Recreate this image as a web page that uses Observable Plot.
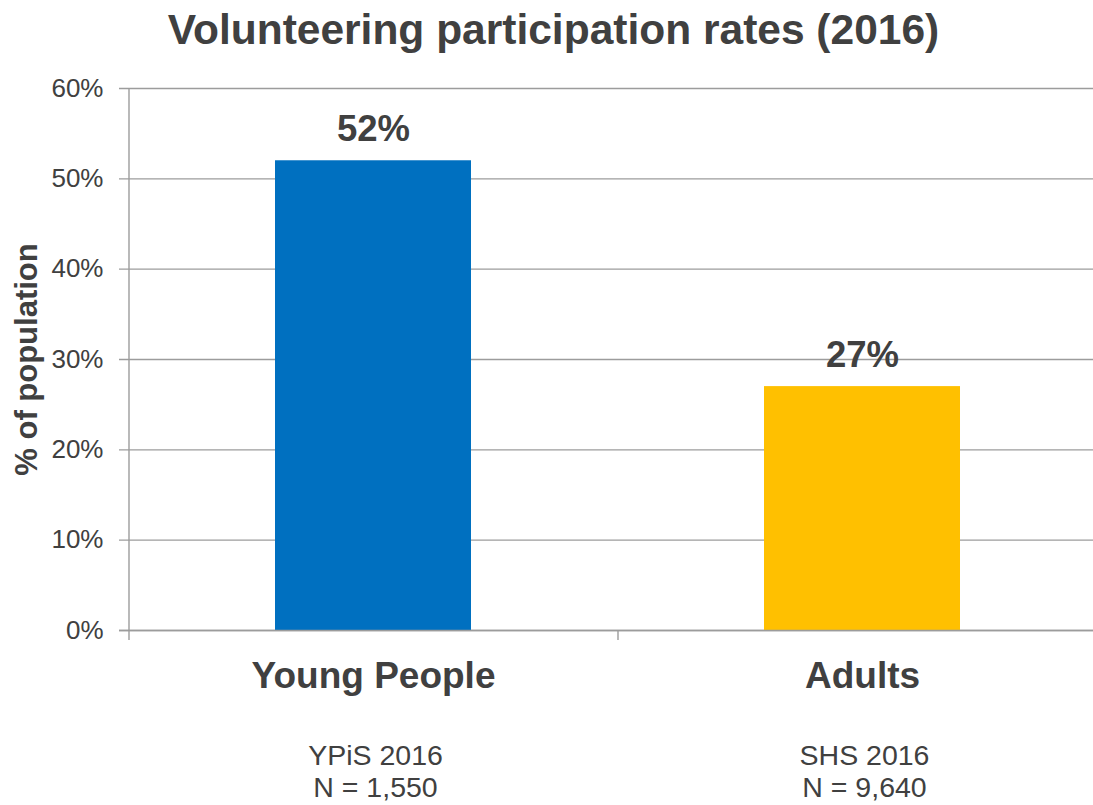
<!DOCTYPE html>
<html>
<head>
<meta charset="utf-8">
<script src="https://cdn.jsdelivr.net/npm/d3@7"></script>
<script src="https://cdn.jsdelivr.net/npm/@observablehq/plot@0.6"></script>
<style>
  html, body { margin: 0; padding: 0; background: #fff; }
  body { width: 1093px; height: 805px; overflow: hidden; font-family: "Liberation Sans", Arial, sans-serif; }
  #title { box-sizing: border-box; height: 70px; padding-top: 9px; padding-left: 14px; text-align: center;
           font-size: 42.5px; line-height: 42px; font-weight: bold; color: #404040; white-space: nowrap; }
  #chart svg { display: block; }
</style>
</head>
<body>
<div id="title"></div>
<div id="chart"></div>
<script>
// ---- data ----
const titleText = "Volunteering participation rates (2016)";
const categories = ["Young People", "Adults"];
const values = [52, 27];
const surveys = ["YPiS 2016", "SHS 2016"];
const sampleSizes = ["N = 1,550", "N = 9,640"];
const barColors = ["#0070C0", "#FFC000"];
const yTicks = [0, 10, 20, 30, 40, 50, 60];
const yLabel = "% of population";

// ---- layout ----
const W = 1093, H = 735;
const xRange = [128, 1106];
const step = (xRange[1] - xRange[0]) / categories.length;
const grey = "#9c9c9c";
const font = "'Liberation Sans', Arial, sans-serif";

const data = categories.map((c, i) => ({
  category: c, value: values[i], sub: surveys[i] + "\n" + sampleSizes[i]
}));

document.getElementById("title").textContent = titleText;

const chart = Plot.plot({
  width: W, height: H,
  marginTop: 18, marginLeft: 128, marginRight: 0, marginBottom: 175,
  style: {fontFamily: font, color: "#404040", background: "#fff", overflow: "visible"},
  x: {domain: categories, range: xRange, paddingInner: 0.6, paddingOuter: 0.3, axis: null},
  y: {domain: [0, 60], axis: null},
  color: {domain: categories, range: barColors},
  marks: [
    Plot.ruleY(yTicks, {y: d => d, stroke: grey, strokeWidth: 1.4, insetLeft: -9}),
    Plot.barY(data, {x: "category", y: "value", fill: "category"}),
    Plot.ruleY([0], {y: d => d, stroke: grey, strokeWidth: 1.4, insetLeft: -9}),
    // y axis line
    Plot.ruleX([categories[0]], {x: d => d, dx: -step / 2, y1: yTicks[yTicks.length - 1], y2: 0, insetBottom: -10, stroke: grey, strokeWidth: 1.4}),
    // category boundary tick
    Plot.ruleX([categories[1]], {x: d => d, dx: -step / 2, y1: 0, y2: 0, insetBottom: -10, stroke: grey, strokeWidth: 1.4}),
    // y tick labels
    Plot.text(yTicks, {y: d => d, frameAnchor: "left", dx: -25, textAnchor: "end", text: d => d + "%", fontSize: 26, fill: "#404040"}),
    // y axis title
    Plot.text([yLabel], {frameAnchor: "left", dx: -92, rotate: -90, textAnchor: "middle", lineAnchor: "bottom", text: d => d, fontSize: 31, fontWeight: "bold", fill: "#404040"}),
    // value labels
    Plot.text(data, {x: "category", y: "value", text: d => d.value + "%", dy: -20, lineAnchor: "bottom", fontSize: 36.5, fontWeight: "bold", fill: "#404040"}),
    // category labels
    Plot.text(data, {x: "category", frameAnchor: "bottom", dy: 57, lineAnchor: "bottom", text: "category", fontSize: 37, fontWeight: "bold", fill: "#404040"}),
    // survey / sample size labels
    Plot.text(data, {x: "category", frameAnchor: "bottom", dx: 2, dy: 166, lineAnchor: "bottom", lineHeight: 1.12, text: "sub", fontSize: 28.5, fill: "#404040"})
  ]
});
document.getElementById("chart").appendChild(chart);
</script>
</body>
</html>
